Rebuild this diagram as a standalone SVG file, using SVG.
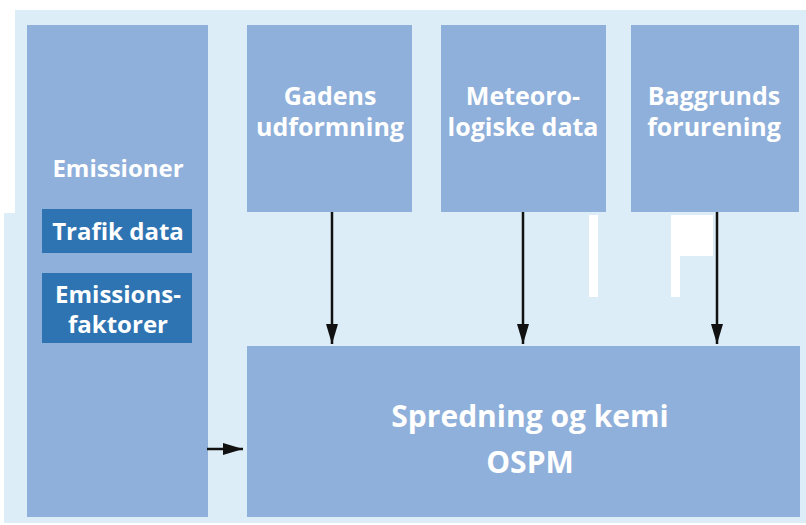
<svg xmlns="http://www.w3.org/2000/svg" width="806" height="525" viewBox="0 0 806 525">
  <style>
    .panel { fill: #dcedf8; }
    .box { fill: #8fb0da; }
    .sub { fill: #2e74b2; }
    .lbl { font-family: "Open Sans", "Liberation Sans", sans-serif; font-weight: 700; fill: #ffffff; text-anchor: middle; font-size: 24px; }
    .top { font-size: 25px; }
    .big { font-size: 30px; }
    .wire { stroke: #111111; stroke-width: 2.5; fill: none; }
  </style>
  <defs>
    <marker id="head" viewBox="0 0 20 12" refX="20" refY="6" markerWidth="8" markerHeight="4.8" markerUnits="strokeWidth" orient="auto">
      <path d="M0,0 L20,6 L0,12 Z" fill="#111111"/>
    </marker>
  </defs>

  <!-- page and panel -->
  <rect x="0" y="0" width="806" height="525" fill="#ffffff"/>
  <rect class="panel" x="15" y="10" width="791" height="513"/>
  <rect class="panel" x="4" y="213" width="12" height="310"/>
  <!-- blank patches in the panel -->
  <rect x="589" y="215" width="9" height="82" fill="#ffffff"/>
  <rect x="671" y="215" width="42" height="41" fill="#ffffff"/>
  <rect x="671" y="256" width="9" height="41" fill="#ffffff"/>

  <g id="emissioner">
    <rect class="box" x="27" y="25" width="181" height="492"/>
    <text class="lbl" x="118" y="177">Emissioner</text>
  </g>
  <g id="trafik-data">
    <rect class="sub" x="42" y="209" width="150" height="44"/>
    <text class="lbl" x="118" y="240">Trafik data</text>
  </g>
  <g id="emissionsfaktorer">
    <rect class="sub" x="42" y="273" width="150" height="70"/>
    <text class="lbl" x="118" y="303">Emissions-</text>
    <text class="lbl" x="118" y="333">faktorer</text>
  </g>
  <g id="gadens">
    <rect class="box" x="247" y="25" width="165" height="187"/>
    <text class="lbl top" x="330" y="105">Gadens</text>
    <text class="lbl top" x="330" y="136">udformning</text>
  </g>
  <g id="meteorologi">
    <rect class="box" x="441" y="25" width="165" height="187"/>
    <text class="lbl top" x="523" y="105">Meteoro-</text>
    <text class="lbl top" x="523" y="136">logiske data</text>
  </g>
  <g id="baggrund">
    <rect class="box" x="631" y="25" width="168" height="187"/>
    <text class="lbl top" x="714" y="105">Baggrunds</text>
    <text class="lbl top" x="714" y="136">forurening</text>
  </g>
  <g id="ospm">
    <rect class="box" x="247" y="346" width="553" height="171"/>
    <text class="lbl big" x="530" y="427">Spredning og kemi</text>
    <text class="lbl big" x="530" y="473">OSPM</text>
  </g>

  <g id="connectors">
    <line class="wire" x1="332" y1="212" x2="332" y2="344" marker-end="url(#head)"/>
    <line class="wire" x1="523" y1="212" x2="523" y2="344" marker-end="url(#head)"/>
    <line class="wire" x1="717" y1="212" x2="717" y2="344" marker-end="url(#head)"/>
    <line class="wire" x1="207" y1="449" x2="243" y2="449" marker-end="url(#head)"/>
  </g>
</svg>
